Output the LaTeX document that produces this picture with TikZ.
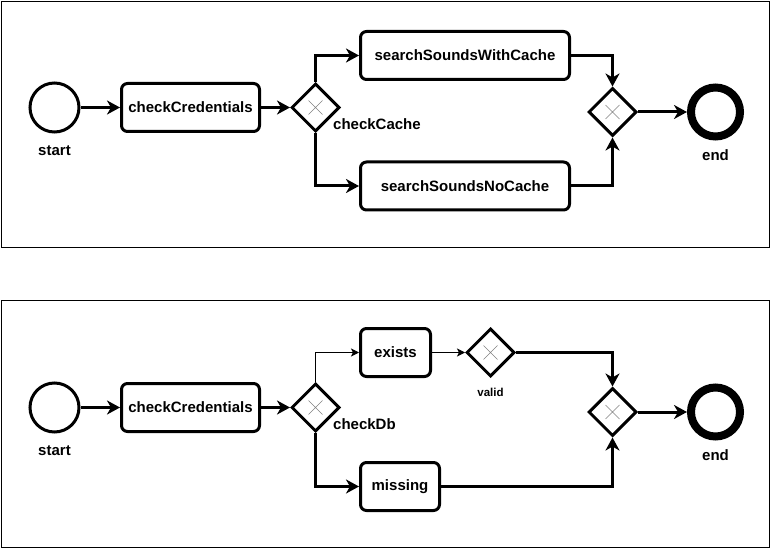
\documentclass[tikz,border=0pt]{standalone}
\usepackage{fontspec}
\setmainfont{Liberation Sans}
\usetikzlibrary{shapes.geometric,arrows.meta}
\begin{document}
\begin{tikzpicture}[x=1pt, y=-1pt,
	every node/.style={font=\bfseries\fontsize{15}{18}\selectfont},
	task/.style={draw, line width=3pt, rounded corners=6pt, minimum height=48pt, inner sep=0pt},
	startev/.style={draw, circle, line width=3pt, minimum size=49pt, inner sep=0pt},
	endev/.style={draw, circle, line width=8pt, minimum size=49pt, inner sep=0pt},
	xgate/.style={draw, diamond, line width=3pt, minimum width=48pt, minimum height=48pt, inner sep=0pt,
		path picture={\draw[line width=0.4pt, gray]
			([xshift=-7pt,yshift=-7pt]path picture bounding box.center) -- ([xshift=7pt,yshift=7pt]path picture bounding box.center)
			([xshift=-7pt,yshift=7pt]path picture bounding box.center) -- ([xshift=7pt,yshift=-7pt]path picture bounding box.center);}},
	lbl/.style={inner sep=0pt},
	flow/.style={line width=3pt, -{Stealth[length=13pt, width=14pt, inset=4pt]}},
	thinflow/.style={line width=1pt, -{Stealth[length=8pt, width=8pt, inset=2pt]}}]
	\useasboundingbox (0,0) rectangle (771,548);
	\draw (1,1) rectangle (769,247);
	\draw (1,300) rectangle (769,547);

	% parts both diagrams share
	\foreach \p/\y/\gwtext in {1/107.5/checkCache, 2/407.5/checkDb}
	{
		\node[startev] (start\p) at (54.5,\y) {};
		\node[lbl] (startlbl\p) at (54.5,\y+43) {start};
		\node[task, minimum width=138pt] (cred\p) at (190.5,\y) {checkCredentials};
		\node[xgate] (gw\p) at (315.5,\y) {};
		\node[lbl, anchor=west] (gwlbl\p) at (333,\y+17) {\gwtext};
		\node[xgate] (merge\p) at (612.5,\y+4.5) {};
		\node[endev] (end\p) at (715.5,\y+4.5) {};
		\node[lbl] (endlbl\p) at (715.5,\y+47.5) {end};
		\draw[flow] (start\p) -- (cred\p);
		\draw[flow] (cred\p) -- (gw\p);
		\draw[flow] (merge\p) -- (end\p);
	}

	% top
	\node[task, minimum width=209pt] (withcache) at (465,55.5) {searchSoundsWithCache};
	\node[task, minimum width=209pt] (nocache) at (465,186) {searchSoundsNoCache};
	\draw[flow] (gw1.north) |- (withcache);
	\draw[flow] (gw1.south) |- (nocache);
	\draw[flow] (withcache) -| (merge1.north);
	\draw[flow] (nocache) -| (merge1.south);

	% bottom
	\node[task, minimum width=70pt] (exists) at (395.5,352.5) {exists};
	\node[xgate] (valid) at (490.5,352.5) {};
	\node[lbl, font=\bfseries\fontsize{11.5}{14}\selectfont] (validlbl) at (490.5,392) {valid};
	\node[task, minimum width=79pt] (missing) at (400,486.5) {missing};
	\draw[thinflow] (gw2.north) |- (exists);
	\draw[thinflow] (exists) -- (valid);
	\draw[flow] (valid) -| (merge2.north);
	\draw[flow] (gw2.south) |- (missing);
	\draw[flow] (missing) -| (merge2.south);
\end{tikzpicture}
\end{document}
